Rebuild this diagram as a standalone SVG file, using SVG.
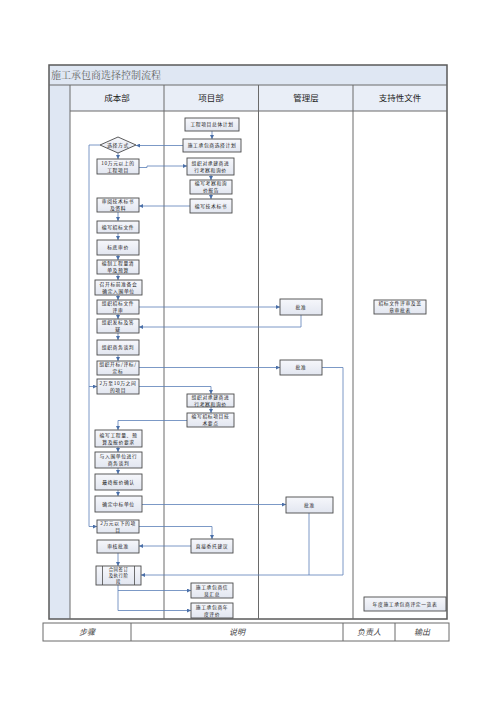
<svg xmlns="http://www.w3.org/2000/svg" width="500" height="708" viewBox="0 0 500 708">
<style>
.tbl{fill:none;stroke:#6a6a6a;stroke-width:1}
.hdr{font-family:"Noto Sans CJK SC","Noto Sans",sans-serif;font-size:8.5px;fill:#222;text-anchor:middle}
.ttl{font-family:"Noto Serif CJK SC","Noto Sans CJK SC",serif;font-size:10px;fill:#666}
.bt{font-family:"Noto Sans CJK SC",sans-serif;font-size:8px;fill:#444;text-anchor:middle;font-style:italic}
.box{fill:url(#g);stroke:#4a4a4a;stroke-width:0.9}
.t{font-family:"Noto Sans CJK SC","Noto Sans",sans-serif;font-size:4.8px;letter-spacing:0.6px;fill:#1a1a1a;text-anchor:middle}
.t3{font-size:4.4px;letter-spacing:0.5px}
.c{fill:none;stroke:#5b7fb8;stroke-width:0.8}
.a{marker-end:url(#ar)}
</style>
<defs>
<linearGradient id="g" x1="0" y1="0" x2="0" y2="1"><stop offset="0" stop-color="#f6f7fb"/><stop offset="1" stop-color="#e2e6f0"/></linearGradient>
<marker id="ar" viewBox="0 0 6 6" refX="6" refY="3" markerWidth="4" markerHeight="4" markerUnits="userSpaceOnUse" orient="auto"><path d="M0,0 L6,3 L0,6 z" fill="#4a6fa8"/></marker>
</defs>
<rect width="500" height="708" fill="#fff"/>
<g id="table">
<rect x="49" y="65" width="398" height="20" fill="#dfe7f3"/>
<rect x="49" y="85" width="21" height="534" fill="#dfe7f3"/>
<rect x="70" y="85" width="377" height="26" fill="#e9eef7"/>
<rect x="49" y="65" width="398" height="554" fill="none" stroke="#5a5a5a" stroke-width="1.5"/>
<line class="tbl" x1="49" y1="85" x2="447" y2="85"/>
<line class="tbl" x1="70" y1="111" x2="447" y2="111"/>
<line class="tbl" x1="70" y1="85" x2="70" y2="619"/>
<line class="tbl" x1="164" y1="85" x2="164" y2="619"/>
<line class="tbl" x1="258.5" y1="85" x2="258.5" y2="619"/>
<line class="tbl" x1="353" y1="85" x2="353" y2="619"/>
<text class="ttl" x="51" y="79">施工承包商选择控制流程</text>
<text class="hdr" x="117" y="101">成本部</text>
<text class="hdr" x="211" y="101">项目部</text>
<text class="hdr" x="306" y="101">管理层</text>
<text class="hdr" x="400" y="101">支持性文件</text>
</g>
<g id="bottom-table">
<rect x="43" y="623" width="406" height="18" fill="#fff" stroke="#6a6a6a" stroke-width="1"/>
<line class="tbl" x1="131" y1="623" x2="131" y2="641"/>
<line class="tbl" x1="343" y1="623" x2="343" y2="641"/>
<line class="tbl" x1="395" y1="623" x2="395" y2="641"/>
<text class="bt" x="87" y="635">步骤</text>
<text class="bt" x="237" y="635">说明</text>
<text class="bt" x="369" y="635">负责人</text>
<text class="bt" x="422" y="635">输出</text>
</g>
<g id="connectors">
<path class="c a" d="M212,131 V139"/>
<path class="c a" d="M183,145.5 H136"/>
<path class="c" d="M100,145 H89 V526.5"/>
<path class="c a" d="M89,526.5 H97"/>
<path class="c a" d="M89,386.5 H97"/>
<path class="c a" d="M118,153 V159"/>
<path class="c a" d="M139,167.5 H147 V166 H187"/>
<path class="c a" d="M211,175 V180"/>
<path class="c a" d="M211,194 V199"/>
<path class="c a" d="M190,206 H139"/>
<path class="c a" d="M118,212 V221"/>
<path class="c a" d="M118,233 V240"/>
<path class="c a" d="M118,255 V260"/>
<path class="c a" d="M118,274 V280"/>
<path class="c a" d="M118,295 V300"/>
<path class="c a" d="M118,314 V319"/>
<path class="c a" d="M118,333 V340"/>
<path class="c a" d="M118,355 V361"/>
<path class="c a" d="M139,307 H280"/>
<path class="c a" d="M301,315 V327 H139"/>
<path class="c a" d="M139,367.5 H280"/>
<path class="c a" d="M322,367.5 H343 V575 H141"/>
<path class="c a" d="M139,386.5 H211 V394"/>
<path class="c a" d="M211,407 V413"/>
<path class="c a" d="M187,420.5 H118 V430"/>
<path class="c a" d="M118,447 V452"/>
<path class="c a" d="M118,468 V474"/>
<path class="c a" d="M118,490 V496"/>
<path class="c a" d="M142,504.5 H286"/>
<path class="c" d="M309,513 V575"/>
<path class="c a" d="M139,526.5 H212 V539"/>
<path class="c a" d="M191,546 H139"/>
<path class="c a" d="M118,553 V566"/>
<path class="c a" d="M118,585 V610.5 H191"/>
<path class="c a" d="M118,590.5 H191"/>
</g>
<g id="p1"><rect class="box" x="185" y="118" width="54" height="13"/><text class="t" x="212" y="126.2">工程项目总体计划</text></g>
<g id="p2"><rect class="box" x="183" y="139" width="58" height="13"/><text class="t" x="212" y="147.2">施工承包商选择计划</text></g>
<g id="p3"><rect class="box" x="187" y="158" width="47" height="17"/><text class="t" x="210.5" y="164.7">组织对承建商进</text><text class="t" x="210.5" y="171.7">行考察和询价</text></g>
<g id="p4"><rect class="box" x="190" y="180" width="42" height="14"/><text class="t" x="211" y="185.2">编写考察和询</text><text class="t" x="211" y="192.2">价报告</text></g>
<g id="p5"><rect class="box" x="190" y="199" width="42" height="14"/><text class="t" x="211" y="207.7">编写技术标书</text></g>
<g id="p6"><rect class="box" x="187" y="394" width="47" height="13"/><text class="t" x="210.5" y="398.7">组织对承建商进</text><text class="t" x="210.5" y="405.7">行考察和询价</text></g>
<g id="p7"><rect class="box" x="187" y="413" width="47" height="14"/><text class="t" x="210.5" y="418.2">编写招标项目技</text><text class="t" x="210.5" y="425.2">术要点</text></g>
<g id="p8"><rect class="box" x="191" y="539" width="42" height="14"/><text class="t" x="212" y="547.7">直接委托建议</text></g>
<g id="p9"><rect class="box" x="191" y="583" width="42" height="15"/><text class="t" x="212" y="588.7">施工承包商信</text><text class="t" x="212" y="595.7">息汇总</text></g>
<g id="p10"><rect class="box" x="191" y="603" width="42" height="15"/><text class="t" x="212" y="608.7">施工承包商年</text><text class="t" x="212" y="615.7">度评价</text></g>
<g id="d1"><polygon class="box" points="100,145 118,137 136,145 118,153"/><text class="t" x="118" y="146.7">选择方式</text></g>
<g id="c1"><rect class="box" x="97" y="159" width="42" height="15"/><text class="t" x="118" y="164.7">10万元以上的</text><text class="t" x="118" y="171.7">工程项目</text></g>
<g id="c2"><rect class="box" x="97" y="198" width="42" height="14"/><text class="t" x="118" y="203.2">审阅技术标书</text><text class="t" x="118" y="210.2">及资料</text></g>
<g id="c3"><rect class="box" x="97" y="221" width="42" height="12"/><text class="t" x="118" y="228.7">编写招标文件</text></g>
<g id="c4"><rect class="box" x="97" y="240" width="42" height="15"/><text class="t" x="118" y="249.2">标底审价</text></g>
<g id="c5"><rect class="box" x="97" y="260" width="42" height="14"/><text class="t" x="118" y="265.2">编制工程量清</text><text class="t" x="118" y="272.2">单及预算</text></g>
<g id="c6"><rect class="box" x="95" y="280" width="47" height="15"/><text class="t" x="118.5" y="285.7">召开标前准备会</text><text class="t" x="118.5" y="292.7">确定入围单位</text></g>
<g id="c7"><rect class="box" x="97" y="300" width="42" height="14"/><text class="t" x="118" y="305.2">组织招标文件</text><text class="t" x="118" y="312.2">评审</text></g>
<g id="c8"><rect class="box" x="97" y="319" width="42" height="14"/><text class="t" x="118" y="324.2">组织发标及答</text><text class="t" x="118" y="331.2">疑</text></g>
<g id="c9"><rect class="box" x="97" y="340" width="42" height="15"/><text class="t" x="118" y="349.2">组织商务谈判</text></g>
<g id="c10"><rect class="box" x="97" y="361" width="42" height="14"/><text class="t" x="118" y="366.2">组织开标/评标/</text><text class="t" x="118" y="373.2">定标</text></g>
<g id="c11"><rect class="box" x="97" y="379" width="42" height="15"/><text class="t" x="118" y="384.7">2万至10万之间</text><text class="t" x="118" y="391.7">的项目</text></g>
<g id="c12"><rect class="box" x="95" y="430" width="47" height="17"/><text class="t" x="118.5" y="436.7">编写工程量、预</text><text class="t" x="118.5" y="443.7">算及报价要求</text></g>
<g id="c13"><rect class="box" x="95" y="452" width="47" height="16"/><text class="t" x="118.5" y="458.2">与入围单位进行</text><text class="t" x="118.5" y="465.2">商务谈判</text></g>
<g id="c14"><rect class="box" x="95" y="474" width="47" height="16"/><text class="t" x="118.5" y="483.7">最终报价确认</text></g>
<g id="c15"><rect class="box" x="95" y="496" width="47" height="16"/><text class="t" x="118.5" y="505.7">确定中标单位</text></g>
<g id="c16"><rect class="box" x="97" y="520" width="42" height="13"/><text class="t" x="118" y="524.7">2万元以下的项</text><text class="t" x="118" y="531.7">目</text></g>
<g id="c17"><rect class="box" x="97" y="540" width="42" height="13"/><text class="t" x="118" y="548.2">审核批准</text></g>
<g id="c18"><rect class="box" x="96" y="566" width="45" height="19"/><line x1="102.5" y1="566" x2="102.5" y2="585" stroke="#4a4a4a" stroke-width="0.8"/><line x1="134.5" y1="566" x2="134.5" y2="585" stroke="#4a4a4a" stroke-width="0.8"/><text class="t t3" x="118.5" y="570.6">合同签订</text><text class="t t3" x="118.5" y="577">及执行阶</text><text class="t t3" x="118.5" y="583.4">段</text></g>
<g id="m1"><rect class="box" x="280" y="299" width="42" height="16"/><text class="t" x="301" y="308.7">批准</text></g>
<g id="m2"><rect class="box" x="280" y="360" width="42" height="15"/><text class="t" x="301" y="369.2">批准</text></g>
<g id="m3"><rect class="box" x="286" y="497" width="47" height="16"/><text class="t" x="309.5" y="506.7">批准</text></g>
<g id="s1"><rect class="box" x="374" y="300" width="52" height="14"/><text class="t" x="400" y="305.2">招标文件评审及盖</text><text class="t" x="400" y="312.2">章审批表</text></g>
<g id="s2"><rect class="box" x="364" y="597" width="82" height="14"/><text class="t" x="405" y="605.7">年度施工承包商评定一览表</text></g>
</svg>
